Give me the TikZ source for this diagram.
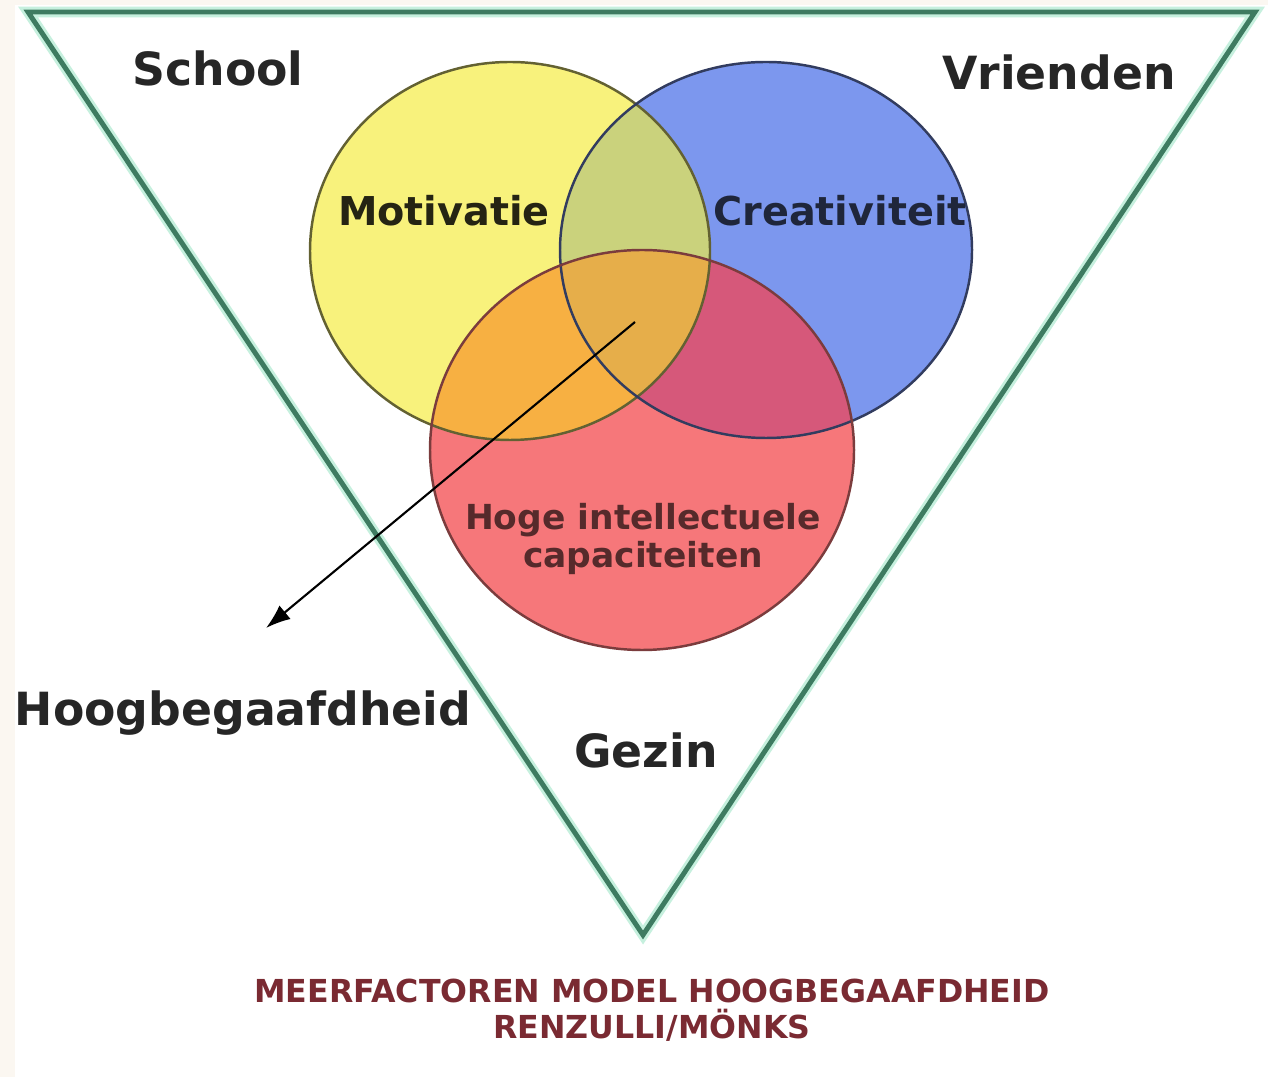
\documentclass[tikz,border=0pt]{standalone}
\usepackage{fontspec}
\setmainfont{DejaVu Sans}
\usetikzlibrary{arrows.meta}
\definecolor{paper}{HTML}{FBF7F1}
\definecolor{frame}{HTML}{3E7B61}
\definecolor{halo}{HTML}{C6F0DE}
\definecolor{yel}{HTML}{F8F27C}
\definecolor{blu}{HTML}{7C97EE}
\definecolor{rd}{HTML}{F6777A}
\definecolor{yelblu}{HTML}{CAD27C}
\definecolor{yelrd}{HTML}{F7B042}
\definecolor{blurd}{HTML}{D6587A}
\definecolor{allthree}{HTML}{E6AE4A}
\definecolor{caption}{HTML}{7A2A32}

\begin{document}
\begin{tikzpicture}[x=0.01cm,y=-0.01cm,
  outer/.style={font=\bfseries\fontsize{13}{15}\selectfont,text=black!85},
  inner/.style={font=\bfseries\fontsize{11.3}{13}\selectfont},
  rim/.style={line width=0.7pt}]
  \useasboundingbox (0,0) rectangle (1268,1077);
  \fill[paper] (0,0) rectangle (1268,1077);
  \fill[white] (15,5) rectangle (1268,1077);

  % the three circles
  \coordinate (y) at (510,251);
  \coordinate (b) at (766,250);
  \coordinate (r) at (642,450);

  \fill[yel] (y) ellipse [x radius=200, y radius=189];
  \fill[blu] (b) ellipse [x radius=206, y radius=188];
  \fill[rd]  (r) ellipse [x radius=212, y radius=200];
  \begin{scope}
    \clip (y) ellipse [x radius=200, y radius=189];
    \fill[yelblu] (b) ellipse [x radius=206, y radius=188];
    \fill[yelrd]  (r) ellipse [x radius=212, y radius=200];
  \end{scope}
  \begin{scope}
    \clip (b) ellipse [x radius=206, y radius=188];
    \fill[blurd] (r) ellipse [x radius=212, y radius=200];
    \clip (y) ellipse [x radius=200, y radius=189];
    \fill[allthree] (r) ellipse [x radius=212, y radius=200];
  \end{scope}
  \draw[rim,draw=yel!40!black] (y) ellipse [x radius=200, y radius=189];
  \draw[rim,draw=blu!40!black] (b) ellipse [x radius=206, y radius=188];
  \draw[rim,draw=rd!50!black]  (r) ellipse [x radius=212, y radius=200];

  % the triangle
  \coordinate (tl) at (28,12);
  \coordinate (tr) at (1255,12);
  \coordinate (bt) at (643,935);
  \draw[halo,line width=3pt,line join=miter] (tl) -- (tr) -- (bt) -- cycle;
  \draw[frame,line width=1.4pt,line join=miter] (tl) -- (tr) -- (bt) -- cycle;

  % labels
  \node[outer] (school) at (218,68) {School};
  \node[outer] (vrienden) at (1059,72) {Vrienden};
  \node[outer] (gezin) at (646,750) {Gezin};
  \node[outer] (hoog) at (243,713) {Hoogbegaafdheid};
  \node[inner,text=yel!15!black] (motivatie) at (444,211) {Motivatie};
  \node[inner,text=blu!25!black] (creativiteit) at (840,211) {Creativiteit};
  \node[font=\bfseries\fontsize{9.8}{11}\selectfont,text=rd!35!black,align=center]
    (capaciteit) at (643,539) {Hoge intellectuele\\capaciteiten};

  % arrow
  \coordinate (from) at (635,322);
  \coordinate (to) at (266,628);
  \draw[line width=0.6pt,-{Latex[length=7pt,width=5pt]}] (from) -- (to);

  % caption
  \node[font=\bfseries\fontsize{9}{10.3}\selectfont,text=caption,align=center]
    (title) at (652,1010) {MEERFACTOREN MODEL HOOGBEGAAFDHEID\\RENZULLI/MÖNKS};
\end{tikzpicture}
\end{document}
